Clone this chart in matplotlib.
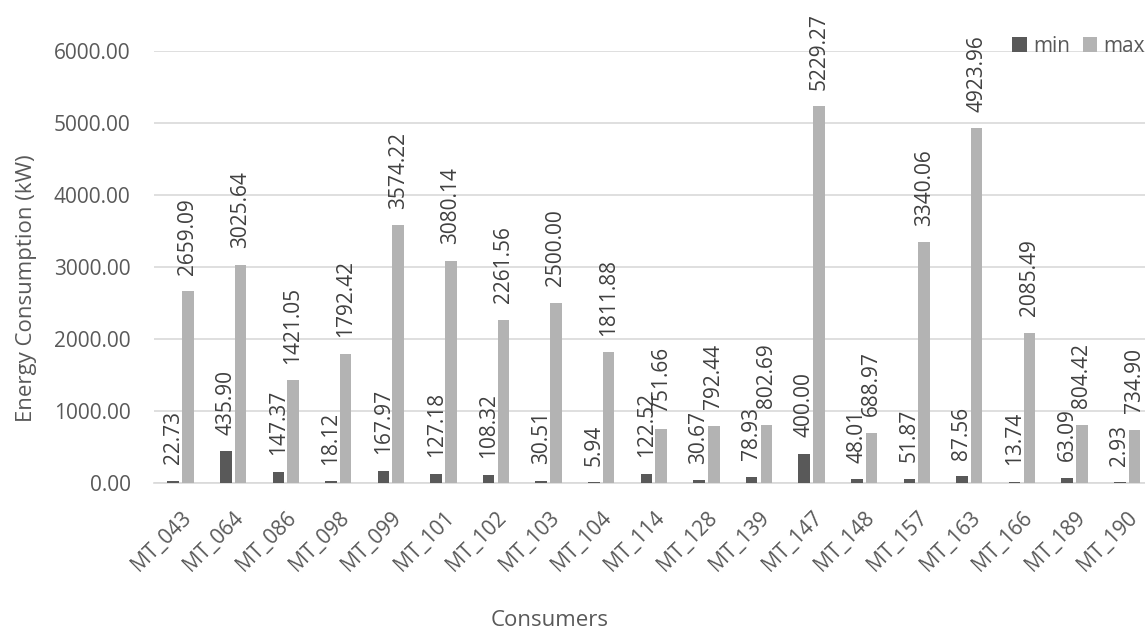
import numpy as np
import matplotlib
matplotlib.use('Agg')
import matplotlib.pyplot as plt

consumers = ['MT_043', 'MT_064', 'MT_086', 'MT_098', 'MT_099', 'MT_101', 'MT_102',
             'MT_103', 'MT_104', 'MT_114', 'MT_128', 'MT_139', 'MT_147', 'MT_148',
             'MT_157', 'MT_163', 'MT_166', 'MT_189', 'MT_190']
min_vals = [22.73, 435.90, 147.37, 18.12, 167.97, 127.18, 108.32, 30.51, 5.94, 122.52,
            30.67, 78.93, 400.00, 48.01, 51.87, 87.56, 13.74, 63.09, 2.93]
max_vals = [2659.09, 3025.64, 1421.05, 1792.42, 3574.22, 3080.14, 2261.56, 2500.00,
            1811.88, 751.66, 792.44, 802.69, 5229.27, 688.97, 3340.06, 4923.96,
            2085.49, 804.42, 734.90]

plt.rcParams['font.family'] = ['Open Sans', 'DejaVu Sans']
txt = '#595959'
fs = 15

fig = plt.figure(figsize=(11.45, 6.33), dpi=100)
# plot area runs past the right edge of the picture, like the reference
ax = fig.add_axes([154.2 / 1145, 1 - 482.7 / 633, 990.8 / 1145, 432 / 633])

x = np.arange(len(consumers))
w = 0.22
b1 = ax.bar(x - w / 2 - 0.03, min_vals, w, color='#595959', label='min', zorder=3)
b2 = ax.bar(x + w / 2 + 0.03, max_vals, w, color='#b3b3b3', label='max', zorder=3)

for bars, vals in [(b1, min_vals), (b2, max_vals)]:
    for r, v in zip(bars, vals):
        ax.annotate(f'{v:.2f}', (r.get_x() + r.get_width() / 2, v),
                    xytext=(0, 12), textcoords='offset points',
                    rotation=90, ha='center', va='bottom',
                    fontsize=fs, color='#404040', annotation_clip=False, zorder=4)

ax.set_ylim(0, 6000)
ax.set_xlim(-0.5, 18.34)
ax.set_yticks(np.arange(0, 6001, 1000))
ax.set_yticklabels([f'{t:.2f}' for t in np.arange(0, 6001, 1000)])
ax.yaxis.grid(True, color='#d9d9d9', linewidth=1.2, zorder=0)
for s in ['top', 'right', 'left']:
    ax.spines[s].set_visible(False)
ax.spines['bottom'].set_color('#d9d9d9')
ax.spines['bottom'].set_linewidth(1.2)
ax.tick_params(axis='both', length=0, labelsize=fs, labelcolor=txt)
ax.tick_params(axis='y', pad=17)
ax.set_xticks(x)
ax.set_xticklabels(consumers, rotation=45, ha='right', va='top', rotation_mode='anchor')
ax.tick_params(axis='x', pad=18)

fig.text(27 / 1145, 1 - 288 / 633, 'Energy Consumption (kW)', rotation=90,
         ha='center', va='center', fontsize=16, color=txt)
fig.text(550 / 1145, 1 - 620 / 633, 'Consumers', ha='center', va='center',
         fontsize=16, color=txt)

ax.legend(loc='upper right', bbox_to_anchor=(1145 / 1145, 1 - 36 / 633),
          bbox_transform=fig.transFigure, frameon=False, ncol=2, fontsize=fs,
          labelcolor=txt, handlelength=0.7, handleheight=0.7, handletextpad=0.3,
          columnspacing=0.6, borderaxespad=0, borderpad=0)

fig.savefig('out.png', dpi=100)
